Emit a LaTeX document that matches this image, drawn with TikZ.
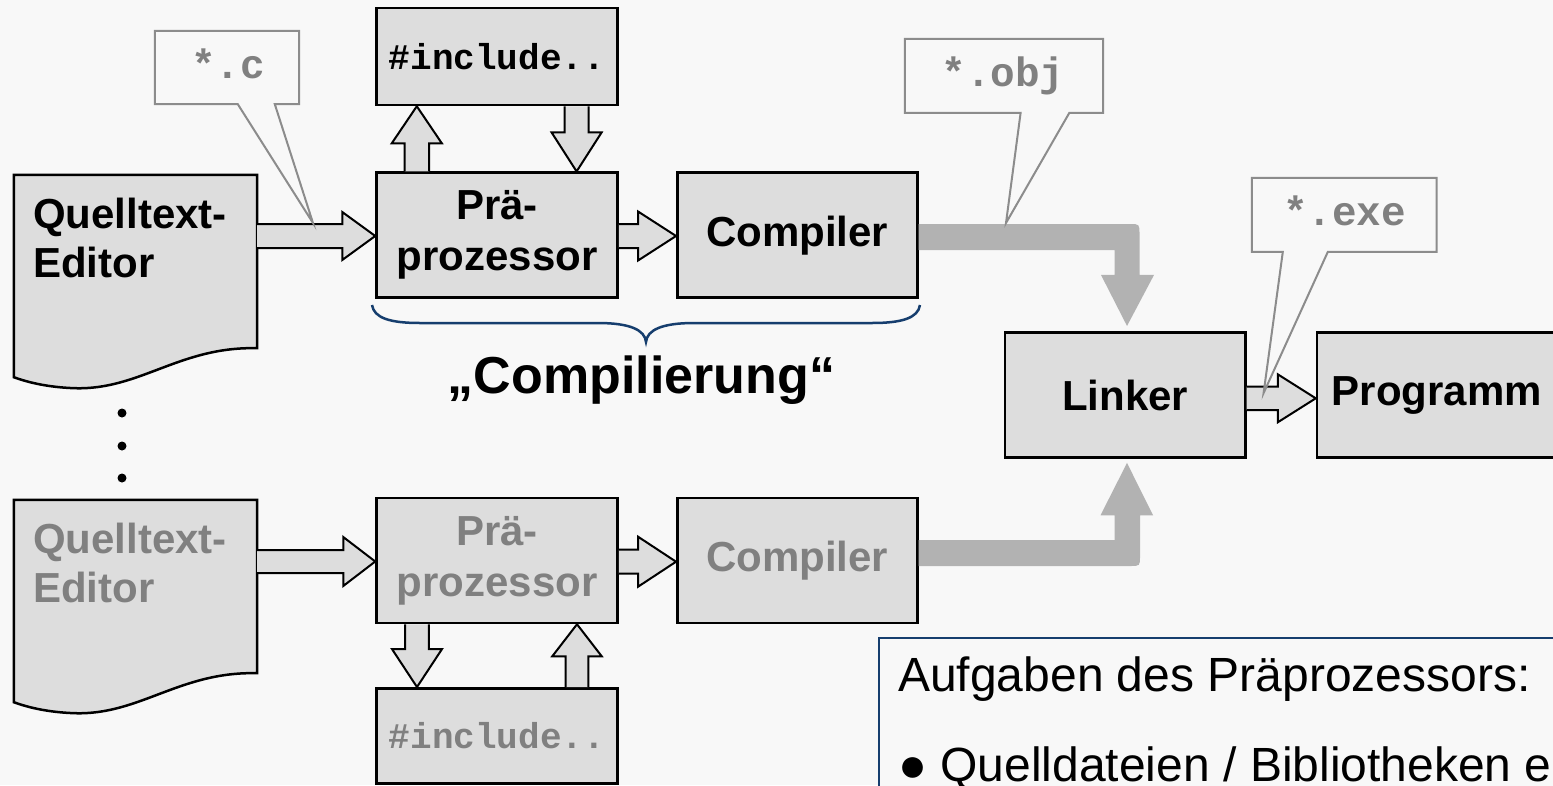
\documentclass[tikz,border=0pt]{standalone}
\usepackage{fontspec}
\setmainfont{Liberation Sans}
\setmonofont{Liberation Mono}
\usetikzlibrary{calc}

\definecolor{bg}{RGB}{248,248,248}
\definecolor{boxfill}{RGB}{221,221,221}
\definecolor{flowgray}{RGB}{178,178,178}
\definecolor{callgray}{RGB}{140,140,140}
\definecolor{textgray}{RGB}{128,128,128}
\definecolor{navy}{RGB}{22,62,110}

% horizontal block arrow: from anchor #1 to anchor #2 at height #3,
% shaft half width #4, head half width #5, head length #6
\newcommand\harrow[6]{%
  \draw[blockarrow] let \p1=(#1), \p2=(#2), \p3=(0,#3) in
    (\x1,\y3+#4pt) -- (\x2-#6pt,\y3+#4pt) -- (\x2-#6pt,\y3+#5pt) -- (\x2,\y3)
    -- (\x2-#6pt,\y3-#5pt) -- (\x2-#6pt,\y3-#4pt) -- (\x1,\y3-#4pt);}

% vertical block arrow: from anchor #1 to anchor #2 at position #3,
% shaft half width #4, head half width #5, head length #6 (negative = pointing down)
\newcommand\varrow[6]{%
  \draw[blockarrow] let \p1=(#1), \p2=(#2), \p3=(#3,0) in
    (\x3-#4pt,\y1) -- (\x3-#4pt,{\y2-(#6pt)}) -- (\x3-#5pt,{\y2-(#6pt)}) -- (\x3,\y2)
    -- (\x3+#5pt,{\y2-(#6pt)}) -- (\x3+#4pt,{\y2-(#6pt)}) -- (\x3+#4pt,\y1);}

\begin{document}
\begin{tikzpicture}[x=1pt,y=-1pt,
  procbox/.style={draw=black, line width=2.5pt, fill=boxfill, minimum width=241pt,
    minimum height=125pt, inner sep=0pt, align=center,
    font=\bfseries\fontsize{42}{51}\selectfont},
  incbox/.style={procbox, minimum height=97pt,
    font=\ttfamily\bfseries\fontsize{36}{40}\selectfont},
  dimmed/.style={text=textgray},
  docframe/.style={inner sep=0pt, minimum width=243pt, minimum height=173pt},
  doc/.style={draw=black, line width=2.5pt, fill=boxfill, line join=miter},
  edlabel/.style={anchor=north west, inner sep=0pt, align=left,
    font=\bfseries\fontsize{42}{49}\selectfont},
  blockarrow/.style={draw=black, line width=2pt, fill=boxfill, line join=miter},
  fatarrow/.style={fill=flowgray},
  callframe/.style={inner sep=0pt},
  callout/.style={draw=callgray, line width=2pt, fill=bg, line join=miter},
  calltext/.style={text=textgray, anchor=base, inner sep=0pt,
    font=\ttfamily\bfseries\fontsize{41}{41}\selectfont},
  brace/.style={draw=navy, line width=2.5pt},
  infobox/.style={draw=navy, line width=2pt, fill=bg}
]
\useasboundingbox (0,0) rectangle (1553,785);
\clip (0,0) rectangle (1553,785);
\fill[bg] (0,0) rectangle (1553,785);

% note box on the lower right
\node[infobox, anchor=north west, minimum width=720pt, minimum height=200pt] (info) at (878.4,637) {};
\node[anchor=north west, inner sep=0pt, align=left, font=\fontsize{48}{90}\selectfont]
  (infotxt) at (898,657) {Aufgaben des Präprozessors:\\● Quelldateien / Bibliotheken e};

% source editors (document shapes)
\node[docframe] (ed1) at (135.5,261.5) {};
\node[docframe] (ed2) at (135.5,586.5) {};
\foreach \e in {ed1,ed2}{
  \draw[doc] (\e.south east) -- (\e.north east) -- (\e.north west)
    -- ($(\e.south west)+(0,29)$)
    .. controls ($(\e.south west)+(11,33)$) and ($(\e.south west)+(31,39)$) .. ($(\e.south west)+(61,40)$)
    .. controls ($(\e.south west)+(126,42)$) and ($(\e.south west)+(166,-2)$) .. (\e.south east) -- cycle;
}
\node[edlabel] (ed1txt) at (33,198) {Quelltext-\\Editor};
\node[edlabel, dimmed] (ed2txt) at (33,523) {Quelltext-\\Editor};

% ellipsis between the two source files
\fill (122,413) circle (4.5pt);
\fill (122,446) circle (4.5pt);
\fill (122,478) circle (4.5pt);

% process boxes
\node[procbox] (pre1) at (497,235.2) {\raisebox{0pt}[\height][0pt]{Prä-}\\prozessor};
\node[procbox, minimum width=240pt] (comp1) at (797.3,235.2) {Compiler};
\node[incbox] (inc1) at (497,56.5) {\#include..};
\node[procbox, dimmed] (pre2) at (497,560.5) {Prä-\\prozessor};
\node[procbox, dimmed, minimum width=240pt] (comp2) at (797.3,560.5) {Compiler};
\node[incbox, dimmed, minimum height=95pt] (inc2) at (497,735.8) {\#include..};
\node[procbox, minimum width=240.5pt] (linker) at (1125.2,395) {Linker};
\node[procbox, minimum width=240pt] (prog) at (1437,395) {Programm};

% block arrows
\harrow{ed1.east}{pre1.west}{236}{12}{24}{33}
\harrow{pre1.east}{comp1.west}{236}{12}{24.5}{38}
\harrow{linker.east}{prog.west}{398.3}{11.7}{24}{38}
\harrow{ed2.east}{pre2.west}{561.5}{11.5}{24.5}{32}
\harrow{pre2.east}{comp2.west}{561.7}{12}{25}{38}
\varrow{pre1.north}{inc1.south}{416.8}{12.2}{25}{37}
\varrow{inc1.south}{pre1.north}{576.6}{12}{25}{-39}
\varrow{pre2.south}{inc2.north}{417}{11.8}{25}{-38}
\varrow{inc2.north}{pre2.south}{577}{11.3}{24.7}{32}

% object files flowing into the linker
\fill[fatarrow] let \p1=(comp1.east), \p2=(linker.north) in
  (\x1,\y1+11.2pt) -- (\x2+4.3pt,\y1+11.2pt)
  .. controls (\x2+14.3pt,\y1+11.2pt) .. (\x2+14.3pt,\y1+1.2pt)
  -- (\x2+14.3pt,\y2+56.3pt) -- (\x2+28.8pt,\y2+56.3pt) -- (\x2+1.8pt,\y2+5.3pt)
  -- (\x2-24.2pt,\y2+56.3pt) -- (\x2-10.7pt,\y2+56.3pt) -- (\x2-10.7pt,\y1-14.8pt)
  -- (\x1,\y1-14.8pt) -- cycle;
\fill[fatarrow] let \p1=(comp2.east), \p2=(linker.south) in
  (\x1,\y1+20.5pt) -- (\x2-10.7pt,\y1+20.5pt) -- (\x2-10.7pt,\y2-56.5pt)
  -- (\x2-24.7pt,\y2-56.5pt) -- (\x2+1.8pt,\y2-4.2pt) -- (\x2+27.8pt,\y2-56.5pt)
  -- (\x2+14.8pt,\y2-56.5pt) -- (\x2+14.8pt,\y1+4.5pt)
  .. controls (\x2+14.8pt,\y1-5.5pt) .. (\x2+4.8pt,\y1-5.5pt)
  -- (\x1,\y1-5.5pt) -- cycle;

% brace under preprocessor and compiler
\draw[brace] (372,305) .. controls (374,318) and (390,323) .. (420,323) -- (598,323)
  .. controls (630,323) and (645,330) .. (646,342)
  .. controls (647,330) and (662,323) .. (694,323) -- (872,323)
  .. controls (902,323) and (918,318) .. (920,305);
\node[anchor=base, inner sep=0pt, font=\bfseries\fontsize{52}{52}\selectfont]
  (compil) at (641.5,393) {„Compilierung“};

% file type callouts
\coordinate (ctip) at (313,223);
\coordinate (otip) at (1006,223);
\coordinate (etip) at (1263.6,393);
\node[callframe, minimum width=144pt, minimum height=73pt] (cc) at (227,67.5) {};
\node[callframe, minimum width=198pt, minimum height=73.7pt] (co) at (1004,75.85) {};
\node[callframe, minimum width=184.5pt, minimum height=73.7pt] (ce) at (1344.25,214.85) {};
\draw[callout] (cc.south west) -- (cc.north west) -- (cc.north east) -- (cc.south east)
  -- ($(cc.south west)+(120,0)$) -- (ctip) -- ($(cc.south west)+(83,0)$) -- cycle;
\draw[callout] (co.south west) -- (co.north west) -- (co.north east) -- (co.south east)
  -- ($(co.south west)+(164.5,0)$) -- (otip) -- ($(co.south west)+(115.8,0)$) -- cycle;
\draw[callout] (ce.south west) -- (ce.north west) -- (ce.north east) -- (ce.south east)
  -- ($(ce.south west)+(76,0)$) -- (etip) -- ($(ce.south west)+(31,0)$) -- cycle;
\node[calltext] (cctxt) at (228,78) {*.c};
\node[calltext] (cotxt) at (1003,86.7) {*.obj};
\node[calltext] (cetxt) at (1344.5,225) {*.exe};
\end{tikzpicture}
\end{document}
